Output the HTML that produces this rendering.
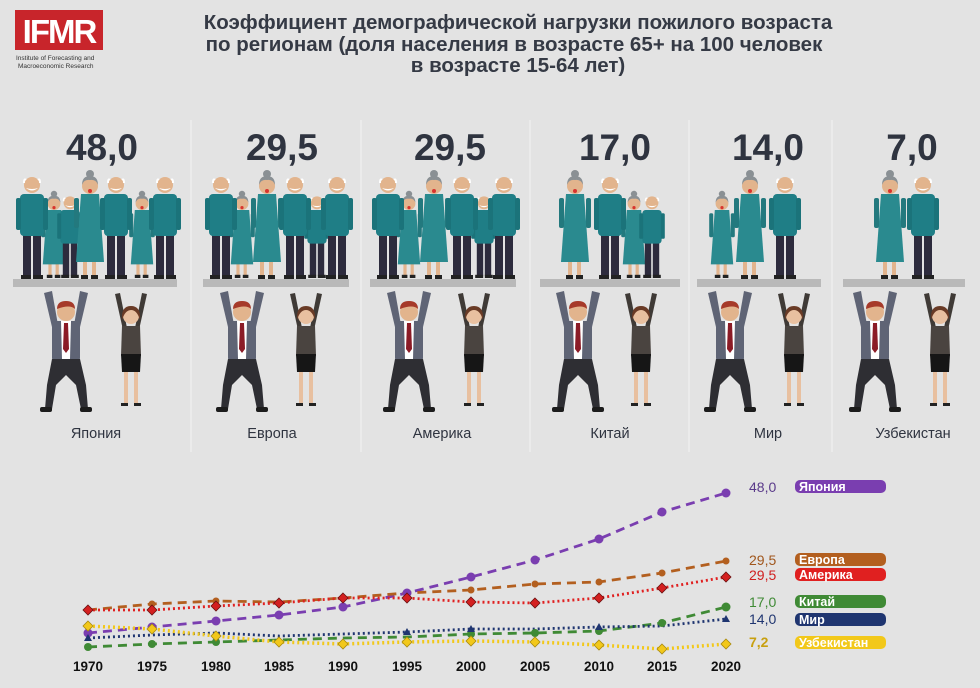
<!DOCTYPE html>
<html><head><meta charset="utf-8"><style>
body{margin:0;background:#e3e3e3;}
svg{display:block;font-family:"Liberation Sans",sans-serif;}
</style></head><body>
<svg width="980" height="688" viewBox="0 0 980 688">
<defs>
<g id="em">
 <rect x="6" y="60" width="8" height="42" fill="#2d2b3d"/><rect x="16" y="60" width="8" height="42" fill="#2d2b3d"/>
 <rect x="3" y="20" width="24" height="42" rx="4" fill="#1f7e86"/>
 <rect x="-1" y="24" width="5" height="32" rx="2" fill="#1b737a"/><rect x="26" y="24" width="5" height="32" rx="2" fill="#1b737a"/>
 <circle cx="15" cy="11" r="8" fill="#e2b48d"/><path d="M9 14 Q15 19 21 14 Q15 16 9 14Z" fill="#fff"/>
 <path d="M7 9 Q7 4 9 6 M23 9 Q23 4 21 6" stroke="#fff" stroke-width="2" fill="none"/>
 <rect x="4" y="101" width="10" height="4" fill="#222"/><rect x="16" y="101" width="10" height="4" fill="#222"/>
</g>
<g id="ew">
 <rect x="8" y="85" width="4" height="18" fill="#e2b48d"/><rect x="17" y="85" width="4" height="18" fill="#e2b48d"/>
 <path d="M6 20 L24 20 L29 88 L1 88Z" fill="#2a8a8f"/>
 <rect x="-1" y="24" width="5" height="30" rx="2" fill="#23797e"/><rect x="26" y="24" width="5" height="30" rx="2" fill="#23797e"/>
 <circle cx="15" cy="12" r="8" fill="#e2b48d"/><path d="M7 11 Q7 2 15 2 Q23 2 23 11 Q21 5 15 6 Q9 5 7 11Z" fill="#8a9094"/>
 <circle cx="15" cy="0" r="4" fill="#8a9094"/><circle cx="15" cy="17" r="2" fill="#d8342e"/>
 <rect x="6" y="101" width="7" height="4" fill="#222"/><rect x="16" y="101" width="7" height="4" fill="#222"/>
</g>
<g id="man">
 <path d="M-22 8 L-14 6 L-8 40 L-14 42Z" fill="#5f6475"/><path d="M22 8 L14 6 L8 40 L14 42Z" fill="#5f6475"/>
 <rect x="-14" y="36" width="28" height="40" rx="3" fill="#5f6475"/>
 <path d="M-5 36 L5 36 L4 74 L-4 74Z" fill="#fff"/><path d="M-2 38 L2 38 L3 64 L0 68 L-3 64Z" fill="#8b1b26"/>
 <circle cx="0" cy="27" r="9" fill="#e2b48d"/><path d="M-9 24 Q-9 16 0 16 Q9 16 9 24 Q4 19 -9 24Z" fill="#a63a2a"/>
 <path d="M-14 74 L14 74 L20 100 L22 124 L15 124 L10 100 L0 90 L-10 100 L-14 124 L-21 124 L-19 100Z" fill="#2e2e33"/>
 <rect x="-26" y="122" width="12" height="5" rx="2" fill="#1c1c1c"/><rect x="14" y="122" width="12" height="5" rx="2" fill="#1c1c1c"/>
</g>
<g id="wom">
 <path d="M-16 6 L-11 5 L-4 40 L-8 42Z" fill="#3f3a36"/><path d="M16 6 L11 5 L4 40 L8 42Z" fill="#3f3a36"/>
 <path d="M-9 38 L9 38 L10 68 L-10 68Z" fill="#4a4440"/>
 <path d="M-10 66 L10 66 L9 84 L-9 84Z" fill="#161616"/>
 <rect x="-7" y="84" width="4" height="32" fill="#e8c0a0"/><rect x="3" y="84" width="4" height="32" fill="#e8c0a0"/>
 <circle cx="0" cy="28" r="8" fill="#e8c0a0"/><path d="M-9 32 Q-10 18 0 18 Q10 18 9 32 Q6 22 0 22 Q-6 22 -9 32Z" fill="#6a3b26"/>
 <rect x="-10" y="115" width="7" height="3" fill="#222"/><rect x="3" y="115" width="7" height="3" fill="#222"/>
</g>
</defs>

<!-- logo -->
<rect x="15" y="10" width="88" height="40" fill="#c8252b"/>
<text x="59" y="43" font-size="33" fill="#fff" text-anchor="middle" font-weight="bold" letter-spacing="-2">IFMR</text>
<text x="16" y="60" font-size="6.5" fill="#333">Institute of Forecasting and</text>
<text x="18" y="68" font-size="6.5" fill="#333">Macroeconomic Research</text>

<g font-size="20.5" fill="#353a45" font-weight="bold" text-anchor="middle">
<text x="518" y="29">Коэффициент демографической нагрузки пожилого возраста</text>
<text x="514" y="51">по регионам (доля населения в возрасте 65+ на 100 человек</text>
<text x="518" y="72">в возрасте 15-64 лет)</text>
</g>

<g stroke="#eeeeee" stroke-width="1.5">
<line x1="191" y1="120" x2="191" y2="452"/><line x1="361" y1="120" x2="361" y2="452"/>
<line x1="530" y1="120" x2="530" y2="452"/><line x1="689" y1="120" x2="689" y2="452"/>
<line x1="832" y1="120" x2="832" y2="452"/>
</g>

<g font-size="37" font-weight="bold" fill="#2f3440" text-anchor="middle">
<text x="102" y="160">48,0</text><text x="282" y="160">29,5</text><text x="450" y="160">29,5</text>
<text x="615" y="160">17,0</text><text x="768" y="160">14,0</text><text x="912" y="160">7,0</text>
</g>
<g font-size="14.5" fill="#2f3440" text-anchor="middle">
<text x="96" y="438">Япония</text><text x="272" y="438">Европа</text><text x="442" y="438">Америка</text>
<text x="610" y="438">Китай</text><text x="768" y="438">Мир</text><text x="913" y="438">Узбекистан</text>
</g>

<!-- elders: back row (scaled) then front -->
<g>
<use href="#ew" transform="translate(42,194) scale(0.8)"/><use href="#em" transform="translate(58,194) scale(0.8)"/><use href="#ew" transform="translate(130,194) scale(0.8)"/>
<use href="#ew" transform="translate(230,194) scale(0.8)"/><use href="#em" transform="translate(305,194) scale(0.8)"/>
<use href="#ew" transform="translate(397,194) scale(0.8)"/><use href="#em" transform="translate(472,194) scale(0.8)"/>
<use href="#ew" transform="translate(622,194) scale(0.8)"/><use href="#em" transform="translate(640,194) scale(0.8)"/>
<use href="#ew" transform="translate(710,194) scale(0.8)"/>

<use href="#em" transform="translate(17,174)"/><use href="#ew" transform="translate(75,174)"/><use href="#em" transform="translate(101,174)"/><use href="#em" transform="translate(150,174)"/>
<use href="#em" transform="translate(206,174)"/><use href="#ew" transform="translate(252,174)"/><use href="#em" transform="translate(280,174)"/><use href="#em" transform="translate(322,174)"/>
<use href="#em" transform="translate(373,174)"/><use href="#ew" transform="translate(419,174)"/><use href="#em" transform="translate(447,174)"/><use href="#em" transform="translate(489,174)"/>
<use href="#ew" transform="translate(560,174)"/><use href="#em" transform="translate(595,174)"/>
<use href="#ew" transform="translate(735,174)"/><use href="#em" transform="translate(770,174)"/>
<use href="#ew" transform="translate(875,174)"/><use href="#em" transform="translate(908,174)"/>
</g>
<g fill="#b9b9b9">
<rect x="13" y="279" width="164" height="8"/><rect x="203" y="279" width="146" height="8"/><rect x="370" y="279" width="146" height="8"/>
<rect x="540" y="279" width="140" height="8"/><rect x="697" y="279" width="124" height="8"/><rect x="843" y="279" width="122" height="8"/>
</g>
<g>
<use href="#man" x="66" y="285"/><use href="#wom" x="131" y="288"/>
<use href="#man" x="242" y="285"/><use href="#wom" x="306" y="288"/>
<use href="#man" x="409" y="285"/><use href="#wom" x="474" y="288"/>
<use href="#man" x="578" y="285"/><use href="#wom" x="641" y="288"/>
<use href="#man" x="730" y="285"/><use href="#wom" x="794" y="288"/>
<use href="#man" x="875" y="285"/><use href="#wom" x="940" y="288"/>
</g>

<!-- chart -->
<g fill="none" stroke-width="2.8">
<polyline stroke="#7a3eb0" stroke-dasharray="9,6" points="88,633 152,627 216,621 279,615 343,607 407,593 471,577 535,560 599,539 662,512 726,493"/>
<polyline stroke="#b35f1f" stroke-dasharray="9,6" points="88,610 152,604 216,601 279,602 343,598 407,593 471,590 535,584 599,582 662,573 726,561"/>
<polyline stroke="#e02020" stroke-dasharray="2,3" points="88,610 152,610 216,606 279,603 343,598 407,598 471,602 535,603 599,598 662,588 726,577"/>
<polyline stroke="#3f8a35" stroke-dasharray="9,6" points="88,647 152,644 216,642 279,640 343,638 407,637 471,634 535,633 599,631 662,623 726,607"/>
<polyline stroke="#1f3570" stroke-dasharray="2,3" points="88,638 152,635 216,633 279,636 343,634 407,632 471,629 535,629 599,627 662,626 726,619"/>
<polyline stroke="#f2c81a" stroke-dasharray="2,3" stroke-width="3.5" points="88,626 152,629 216,636 279,642 343,644 407,642 471,641 535,642 599,645 662,649 726,644"/>
</g>
<g fill="#7a3eb0"><circle cx="88" cy="633" r="4.5"/><circle cx="152" cy="627" r="4.5"/><circle cx="216" cy="621" r="4.5"/><circle cx="279" cy="615" r="4.5"/><circle cx="343" cy="607" r="4.5"/><circle cx="407" cy="593" r="4.5"/><circle cx="471" cy="577" r="4.5"/><circle cx="535" cy="560" r="4.5"/><circle cx="599" cy="539" r="4.5"/><circle cx="662" cy="512" r="4.5"/><circle cx="726" cy="493" r="4.5"/></g>
<g fill="#b35f1f"><circle cx="152" cy="604" r="3.5"/><circle cx="216" cy="601" r="3.5"/><circle cx="471" cy="590" r="3.5"/><circle cx="535" cy="584" r="3.5"/><circle cx="599" cy="582" r="3.5"/><circle cx="662" cy="573" r="3.5"/><circle cx="726" cy="561" r="3.5"/></g>
<g fill="#d42020" stroke="#6a1010" stroke-width="0.8"><path d="M88 605l5 5-5 5-5-5z"/><path d="M152 605l5 5-5 5-5-5z"/><path d="M216 601l5 5-5 5-5-5z"/><path d="M279 598l5 5-5 5-5-5z"/><path d="M343 593l5 5-5 5-5-5z"/><path d="M407 593l5 5-5 5-5-5z"/><path d="M471 597l5 5-5 5-5-5z"/><path d="M535 598l5 5-5 5-5-5z"/><path d="M599 593l5 5-5 5-5-5z"/><path d="M662 583l5 5-5 5-5-5z"/><path d="M726 572l5 5-5 5-5-5z"/></g>
<g fill="#3f8a35"><circle cx="88" cy="647" r="4"/><circle cx="152" cy="644" r="4"/><circle cx="216" cy="642" r="4"/><circle cx="471" cy="634" r="4"/><circle cx="535" cy="633" r="4"/><circle cx="599" cy="631" r="4"/><circle cx="662" cy="623" r="4"/><circle cx="726" cy="607" r="4.5"/></g>
<g fill="#1f3570"><path d="M88 634l4 7h-8z"/><path d="M407 628l4 7h-8z"/><path d="M471 625l4 7h-8z"/><path d="M599 623l4 7h-8z"/><path d="M726 615l4 7h-8z"/></g>
<g fill="#f2c81a" stroke="#a88a10" stroke-width="0.8"><path d="M88 621l5 5-5 5-5-5z"/><path d="M152 624l5 5-5 5-5-5z"/><path d="M216 631l5 5-5 5-5-5z"/><path d="M279 637l5 5-5 5-5-5z"/><path d="M343 639l5 5-5 5-5-5z"/><path d="M407 637l5 5-5 5-5-5z"/><path d="M471 636l5 5-5 5-5-5z"/><path d="M535 637l5 5-5 5-5-5z"/><path d="M599 640l5 5-5 5-5-5z"/><path d="M662 644l5 5-5 5-5-5z"/><path d="M726 639l5 5-5 5-5-5z"/></g>

<g font-size="13.5" font-weight="bold" fill="#111" text-anchor="middle">
<text x="88" y="671">1970</text><text x="152" y="671">1975</text><text x="216" y="671">1980</text><text x="279" y="671">1985</text><text x="343" y="671">1990</text><text x="407" y="671">1995</text><text x="471" y="671">2000</text><text x="535" y="671">2005</text><text x="599" y="671">2010</text><text x="662" y="671">2015</text><text x="726" y="671">2020</text>
</g>
<g font-size="14">
<text x="749" y="492" fill="#5a3a8a">48,0</text>
<text x="749" y="565" fill="#a0561c">29,5</text>
<text x="749" y="580" fill="#d02020">29,5</text>
<text x="749" y="607" fill="#3f8a35">17,0</text>
<text x="749" y="624" fill="#1f3570">14,0</text>
<text x="749" y="647" fill="#c8a010" font-weight="bold">7,2</text>
</g>
<g>
<rect x="795" y="480" width="91" height="13" rx="5" fill="#7a3eb0"/>
<rect x="795" y="553" width="91" height="13" rx="5" fill="#b35f1f"/>
<rect x="795" y="568" width="91" height="13" rx="5" fill="#e02020"/>
<rect x="795" y="595" width="91" height="13" rx="5" fill="#3f8a35"/>
<rect x="795" y="613" width="91" height="13" rx="5" fill="#1f3570"/>
<rect x="795" y="636" width="91" height="13" rx="5" fill="#f2c81a"/>
</g>
<g font-size="12.5" font-weight="bold" fill="#fff">
<text x="799" y="491">Япония</text><text x="799" y="564">Европа</text><text x="799" y="579">Америка</text>
<text x="799" y="606">Китай</text><text x="799" y="624">Мир</text><text x="799" y="647">Узбекистан</text>
</g>
</svg>
</body></html>
